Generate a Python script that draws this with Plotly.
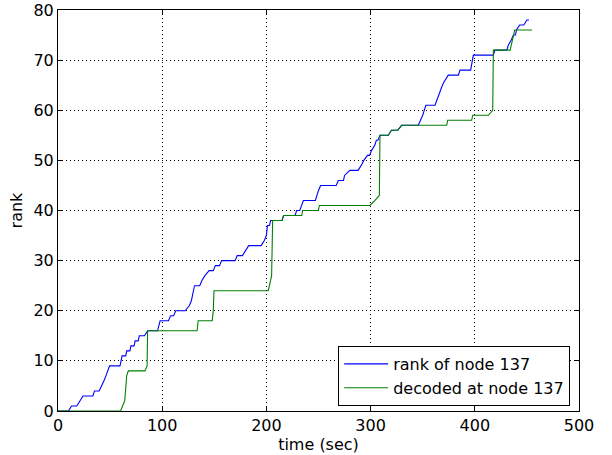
import plotly.graph_objects as go

# rank of node 137 (time in sec, rank)
rank_t = [0, 10, 13, 18, 21, 24, 33.5, 35, 39.5, 42, 44, 46, 48, 49.5, 59.5, 60.5, 61.5, 65, 66, 69, 70, 73, 74, 77, 78, 83, 86,
          95.5, 97, 98, 106, 108, 111, 113, 122, 126, 128, 131, 136, 138, 141, 145, 149, 151, 155, 157, 170, 172, 177, 180, 183,
          195, 198, 200, 201, 203, 204, 206, 215, 216.5, 227.5, 229, 232, 235.5, 247, 250, 252, 267, 269, 274, 275, 280, 288,
          291, 293.5, 297, 299, 301, 304, 305.5, 307, 309, 317, 320, 326, 329.8, 345.8, 350, 353, 361.8, 365, 368, 370, 371.4,
          374.6, 384.2, 385.8, 396, 398.6, 417.8, 419.4, 430.7, 432.2, 435, 437, 439, 440, 443, 447, 450, 452]
rank_v = [0, 0, 1, 1, 2, 3, 3, 4, 4, 5, 6, 7, 8, 9, 9, 10, 11, 11, 12, 12, 13, 13, 14, 14, 15, 15, 16,
          16, 17, 18, 18, 19, 19, 20, 20, 21, 22, 25, 25, 26, 27, 28, 28, 29, 29, 30, 30, 31, 31, 32, 33,
          33, 34, 35, 37, 37, 38, 38, 38, 39, 39, 40, 40, 42, 42, 44, 45, 45, 46, 46, 47, 48, 48,
          49, 50, 51, 51, 52, 53, 54, 54, 55, 55, 56, 56, 57, 57, 59, 61, 61, 63, 64.5, 65.5, 66,
          67, 67, 68, 68, 71, 71, 72, 72, 73, 74, 75, 75, 76, 77, 77, 78, 78]

# decoded at node 137
dec_t = [0, 60, 62, 64, 65.9, 67.5, 83.5, 85.5, 86, 133.5, 134.5, 148, 149, 149.7, 201.8, 203, 205, 206, 215, 216.5,
         233.9, 234.8, 249.9, 250.8, 299.4, 304.2, 308.4, 309, 317, 320, 326, 329.8, 373, 374, 397, 398, 413, 417.2,
         417.8, 433.9, 436, 437, 438.3, 455]
dec_v = [0, 0, 1, 2, 7, 8, 8, 9, 16, 16, 18, 18, 20, 24, 24, 25, 27, 38, 38, 39,
         39, 40, 40, 41, 41, 42, 43, 55, 55, 56, 56, 57, 57, 58, 58, 59, 59, 60,
         72, 72, 74, 75, 76, 76]

x_ticks = [0, 100, 200, 300, 400, 500]
y_ticks = [0, 10, 20, 30, 40, 50, 60, 70, 80]

FONT = "DejaVu Sans"
FS = 16

fig = go.Figure()
fig.add_trace(go.Scatter(x=rank_t, y=rank_v, mode="lines", name="rank of node 137",
                         line=dict(color="#0000ff", width=1.1)))
fig.add_trace(go.Scatter(x=dec_t, y=dec_v, mode="lines", name="decoded at node 137",
                         line=dict(color="#008000", width=1.1)))

axis_common = dict(
    showline=True, linecolor="black", linewidth=1, mirror="ticks",
    ticks="inside", ticklen=5, tickcolor="black", tickwidth=1,
    showgrid=True, gridcolor="black", gridwidth=1, griddash="1px,3px",
    zeroline=False, automargin=False, ticklabeloverflow="allow",
    tickfont=dict(family=FONT, size=FS, color="black"),
)

fig.update_xaxes(range=[0, 500], tickvals=x_ticks, ticktext=[str(v) for v in x_ticks],
                 title=dict(text="time (sec)", font=dict(family=FONT, size=FS, color="black"), standoff=0),
                 **axis_common)
fig.update_yaxes(range=[0, 80], tickvals=y_ticks, ticktext=[str(v) for v in y_ticks],
                 title=dict(text="rank", font=dict(family=FONT, size=FS, color="black"), standoff=6),
                 **axis_common)

fig.update_layout(
    width=612, height=455,
    margin=dict(l=58, r=33, t=10, b=44),
    paper_bgcolor="white", plot_bgcolor="white",
    font=dict(family=FONT, size=FS, color="black"),
    showlegend=True,
    legend=dict(x=0.983, y=0.0125, xanchor="right", yanchor="bottom",
                bordercolor="black", borderwidth=1, bgcolor="white",
                font=dict(family=FONT, size=FS, color="black"),
                tracegroupgap=0, itemwidth=44),
)

# remove the browser's default 8px body margin so the figure fills the window exactly
fig.write_html("out.html", config={"displayModeBar": False},
               post_script="document.body.style.margin='0';")
